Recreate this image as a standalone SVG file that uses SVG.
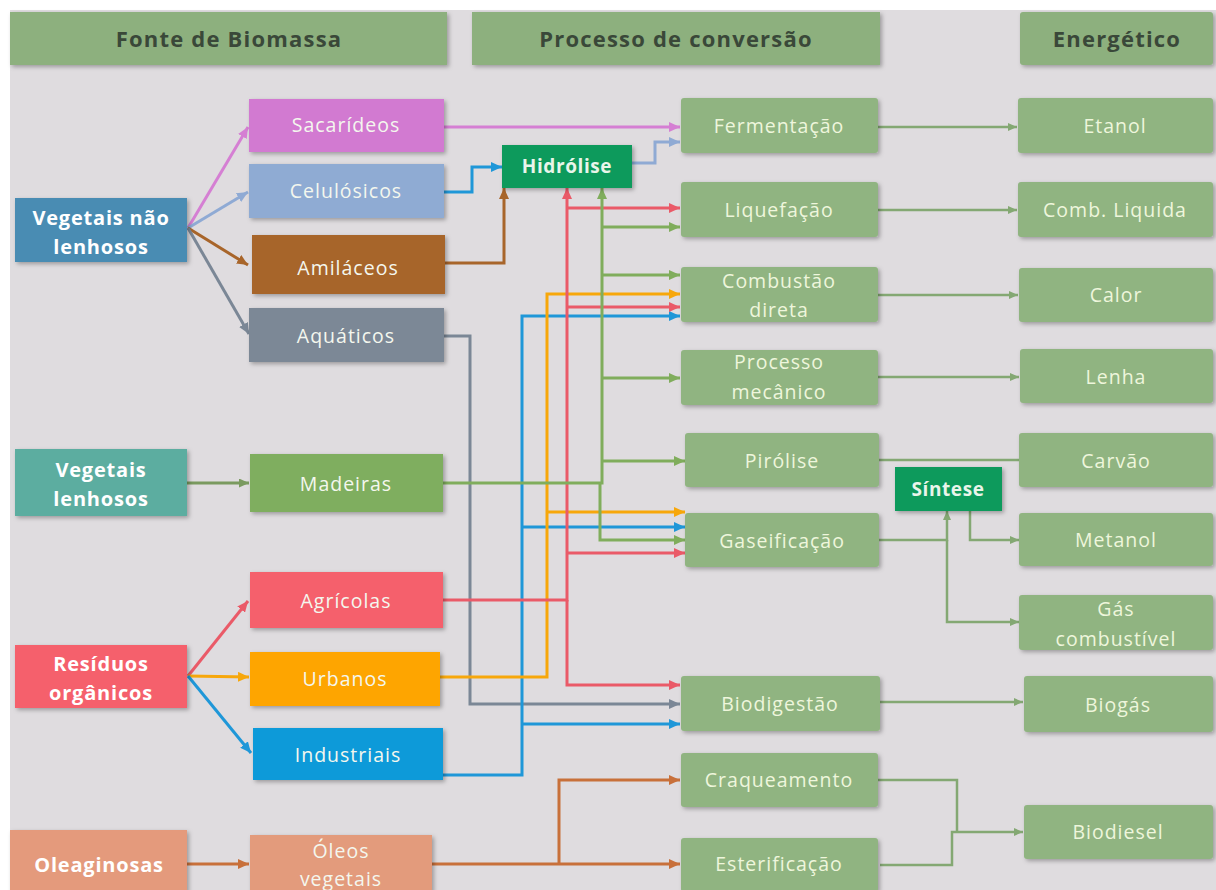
<svg xmlns="http://www.w3.org/2000/svg" width="1216" height="890" viewBox="0 0 1216 890">
<defs>
<filter id="sh" x="-10%" y="-10%" width="130%" height="140%">
<feDropShadow dx="2" dy="2" stdDeviation="2" flood-color="#000" flood-opacity="0.3"/>
</filter>
<marker id="aPink" markerUnits="userSpaceOnUse" markerWidth="11" markerHeight="10" refX="11" refY="5" orient="auto"><path d="M0,0 L11,5 L0,10 z" fill="#d57fd3"/></marker>
<marker id="aLb" markerUnits="userSpaceOnUse" markerWidth="11" markerHeight="10" refX="11" refY="5" orient="auto"><path d="M0,0 L11,5 L0,10 z" fill="#8faad4"/></marker>
<marker id="aBlue" markerUnits="userSpaceOnUse" markerWidth="11" markerHeight="10" refX="11" refY="5" orient="auto"><path d="M0,0 L11,5 L0,10 z" fill="#1f97d8"/></marker>
<marker id="aBrown" markerUnits="userSpaceOnUse" markerWidth="11" markerHeight="10" refX="11" refY="5" orient="auto"><path d="M0,0 L11,5 L0,10 z" fill="#a8652a"/></marker>
<marker id="aGray" markerUnits="userSpaceOnUse" markerWidth="11" markerHeight="10" refX="11" refY="5" orient="auto"><path d="M0,0 L11,5 L0,10 z" fill="#7b8796"/></marker>
<marker id="aRed" markerUnits="userSpaceOnUse" markerWidth="11" markerHeight="10" refX="11" refY="5" orient="auto"><path d="M0,0 L11,5 L0,10 z" fill="#ea5a68"/></marker>
<marker id="aGreen" markerUnits="userSpaceOnUse" markerWidth="11" markerHeight="10" refX="11" refY="5" orient="auto"><path d="M0,0 L11,5 L0,10 z" fill="#80ad5c"/></marker>
<marker id="aOrange" markerUnits="userSpaceOnUse" markerWidth="11" markerHeight="10" refX="11" refY="5" orient="auto"><path d="M0,0 L11,5 L0,10 z" fill="#f7a70b"/></marker>
<marker id="aOil" markerUnits="userSpaceOnUse" markerWidth="11" markerHeight="10" refX="11" refY="5" orient="auto"><path d="M0,0 L11,5 L0,10 z" fill="#c8703a"/></marker>
<marker id="aOut" markerUnits="userSpaceOnUse" markerWidth="9" markerHeight="8" refX="9" refY="4" orient="auto"><path d="M0,0 L9,4 L0,8 z" fill="#84a873"/></marker>
<marker id="aOlive" markerUnits="userSpaceOnUse" markerWidth="10" markerHeight="9" refX="10" refY="4.5" orient="auto"><path d="M0,0 L10,4.5 L0,9 z" fill="#7a9a5f"/></marker>
</defs>
<style>
.box{filter:url(#sh);}
.hdr{fill:#8db07e;}
.proc{fill:#90b481;}
.syn{fill:#0c9a5b;}
text{font-family:"Open Sans","DejaVu Sans",sans-serif;text-anchor:middle;}
.ht{font-size:22px;font-weight:bold;fill:#3a4839;letter-spacing:1.2px;}
.lt{font-size:20px;font-weight:bold;fill:#ffffff;letter-spacing:0.8px;}
.nt{font-size:19.5px;fill:#f4f7ee;letter-spacing:1px;}
.pt{font-size:19.5px;fill:#eef6dc;letter-spacing:1px;}
.st{font-size:19px;font-weight:bold;fill:#e9f5ea;letter-spacing:0.6px;}
.c{fill:none;stroke-width:3;stroke-linejoin:miter;}
.o{fill:none;stroke:#84a873;stroke-width:2.5;}
</style>
<rect x="0" y="0" width="1216" height="890" fill="#ffffff"/>
<rect x="10" y="10" width="1206" height="880" fill="#dfdcdf"/>

<g id="headers">
<g id="h-fonte"><rect class="box hdr" x="10" y="12" width="437" height="53"/><text class="ht" x="229" y="47">Fonte de Biomassa</text></g>
<g id="h-processo"><rect class="box hdr" x="472" y="12" width="408" height="53"/><text class="ht" x="676" y="47">Processo de conversão</text></g>
<g id="h-energetico"><rect class="box hdr" x="1020" y="12" width="193" height="53" rx="3"/><text class="ht" x="1117" y="47">Energético</text></g>
</g>

<g id="connectors">
<path class="c" stroke="#d57fd3" d="M188,228 L248,127" marker-end="url(#aPink)"/>
<path class="c" stroke="#8faad4" d="M188,228 L248,192" marker-end="url(#aLb)"/>
<path class="c" stroke="#a8652a" d="M188,228 L248,265" marker-end="url(#aBrown)"/>
<path class="c" stroke="#7b8796" d="M188,228 L249,334" marker-end="url(#aGray)"/>
<path class="c" stroke="#d57fd3" d="M444,127 H680" marker-end="url(#aPink)"/>
<path class="c" stroke="#1f97d8" d="M444,192 H472 V167 H502" marker-end="url(#aBlue)"/>
<path class="c" stroke="#a8652a" d="M445,263 H504 V188" marker-end="url(#aBrown)"/>
<path class="c" stroke="#8faad4" d="M632,163 H655 V142 H680" marker-end="url(#aLb)"/>
<path class="c" stroke="#7b8796" d="M444,336 H470 V704 H680" marker-end="url(#aGray)"/>
<path class="c" stroke="#1f97d8" d="M443,775 H522 V316 H680" marker-end="url(#aBlue)"/>
<path class="c" stroke="#1f97d8" d="M522,527 H685" marker-end="url(#aBlue)"/>
<path class="c" stroke="#1f97d8" d="M522,724 H680" marker-end="url(#aBlue)"/>
<path class="c" stroke="#f7a70b" d="M440,677 H547 V294 H680" marker-end="url(#aOrange)"/>
<path class="c" stroke="#f7a70b" d="M547,512 H685" marker-end="url(#aOrange)"/>
<path class="c" stroke="#ea5a68" d="M443,600 H567 V188" marker-end="url(#aRed)"/>
<path class="c" stroke="#ea5a68" d="M567,208 H680" marker-end="url(#aRed)"/>
<path class="c" stroke="#ea5a68" d="M567,307 H680" marker-end="url(#aRed)"/>
<path class="c" stroke="#ea5a68" d="M567,553 H685" marker-end="url(#aRed)"/>
<path class="c" stroke="#ea5a68" d="M567,600 V685 H680" marker-end="url(#aRed)"/>
<path class="c" stroke="#80ad5c" d="M443,483 H602 V188" marker-end="url(#aGreen)"/>
<path class="c" stroke="#80ad5c" d="M602,227 H680" marker-end="url(#aGreen)"/>
<path class="c" stroke="#80ad5c" d="M602,275 H680" marker-end="url(#aGreen)"/>
<path class="c" stroke="#80ad5c" d="M602,378 H680" marker-end="url(#aGreen)"/>
<path class="c" stroke="#80ad5c" d="M602,461 H685" marker-end="url(#aGreen)"/>
<path class="c" stroke="#80ad5c" d="M600,483 V540 H685" marker-end="url(#aGreen)"/>
<path class="c" stroke="#7a9a5f" stroke-width="2.5" d="M187,483 H249" marker-end="url(#aOlive)"/>
<path class="c" stroke="#ea5a68" d="M188,676 L248,601" marker-end="url(#aRed)"/>
<path class="c" stroke="#f7a70b" d="M188,676 L249,677" marker-end="url(#aOrange)"/>
<path class="c" stroke="#1f97d8" d="M188,676 L251,753" marker-end="url(#aBlue)"/>
<path class="c" stroke="#c8703a" d="M187,864 H249" marker-end="url(#aOil)"/>
<path class="c" stroke="#c8703a" d="M432,864 H680" marker-end="url(#aOil)"/>
<path class="c" stroke="#c8703a" d="M559,864 V780 H680" marker-end="url(#aOil)"/>
<path class="o" d="M878,127 H1017" marker-end="url(#aOut)"/>
<path class="o" d="M878,210 H1017" marker-end="url(#aOut)"/>
<path class="o" d="M878,295 H1018" marker-end="url(#aOut)"/>
<path class="o" d="M878,377 H1019" marker-end="url(#aOut)"/>
<path class="o" d="M879,460 H1019"/>
<path class="o" d="M879,540 H947 V511" marker-end="url(#aOut)"/>
<path class="o" d="M947,540 V622 H1019" marker-end="url(#aOut)"/>
<path class="o" d="M970,511 V540 H1019" marker-end="url(#aOut)"/>
<path class="o" d="M880,702 H1023" marker-end="url(#aOut)"/>
<path class="o" d="M878,780 H957 V832"/>
<path class="o" d="M880,865 H952 V832 H1023" marker-end="url(#aOut)"/>
</g>

<g id="n-vnl"><rect class="box" x="15" y="198" width="172" height="64" fill="#4a8cb3"/><text class="lt" x="101" y="225">Vegetais não</text><text class="lt" x="101" y="254">lenhosos</text></g>
<g id="n-sacarideos"><rect class="box" x="249" y="99" width="195" height="53" fill="#d27ad1"/><text class="nt" x="346" y="132">Sacarídeos</text></g>
<g id="n-celulosicos"><rect class="box" x="249" y="164" width="195" height="54" fill="#8fabd3"/><text class="nt" x="346" y="198">Celulósicos</text></g>
<g id="n-amilaceos"><rect class="box" x="252" y="235" width="193" height="59" fill="#a7652a"/><text class="nt" x="348" y="275">Amiláceos</text></g>
<g id="n-aquaticos"><rect class="box" x="249" y="308" width="195" height="54" fill="#7c8896"/><text class="nt" x="346" y="343">Aquáticos</text></g>
<g id="n-vl"><rect class="box" x="15" y="449" width="172" height="67" fill="#5bada0"/><text class="lt" x="101" y="477">Vegetais</text><text class="lt" x="101" y="506">lenhosos</text></g>
<g id="n-madeiras"><rect class="box" x="250" y="454" width="193" height="58" fill="#7fae5f"/><text class="nt" x="346" y="491">Madeiras</text></g>
<g id="n-agricolas"><rect class="box" x="250" y="572" width="193" height="56" fill="#f5606c"/><text class="nt" x="346" y="608">Agrícolas</text></g>
<g id="n-residuos"><rect class="box" x="15" y="645" width="172" height="63" fill="#f5606c"/><text class="lt" x="101" y="671">Resíduos</text><text class="lt" x="101" y="700">orgânicos</text></g>
<g id="n-urbanos"><rect class="box" x="250" y="652" width="190" height="54" fill="#fea500"/><text class="nt" x="345" y="686">Urbanos</text></g>
<g id="n-industriais"><rect class="box" x="253" y="728" width="190" height="52" fill="#0d9ad9"/><text class="nt" x="348" y="762">Industriais</text></g>
<g id="n-oleaginosas"><rect class="box" x="10" y="830" width="177" height="62" fill="#e49a7b"/><text class="lt" x="99" y="872">Oleaginosas</text></g>
<g id="n-oleos"><rect class="box" x="250" y="835" width="182" height="57" fill="#e39b7c"/><text class="nt" x="341" y="858">Óleos</text><text class="nt" x="341" y="886">vegetais</text></g>

<g id="n-hidrolise"><rect class="box syn" x="502" y="145" width="130" height="43"/><text class="st" x="567" y="173">Hidrólise</text></g>
<g id="n-fermentacao"><rect class="box proc" x="681" y="98" width="197" height="55" rx="3"/><text class="pt" x="779" y="133">Fermentação</text></g>
<g id="n-liquefacao"><rect class="box proc" x="681" y="182" width="197" height="55" rx="3"/><text class="pt" x="779" y="217">Liquefação</text></g>
<g id="n-combustao"><rect class="box proc" x="681" y="267" width="197" height="55" rx="3"/><text class="pt" x="779" y="288">Combustão</text><text class="pt" x="779" y="317">direta</text></g>
<g id="n-mecanico"><rect class="box proc" x="681" y="350" width="197" height="55" rx="3"/><text class="pt" x="779" y="369">Processo</text><text class="pt" x="779" y="399">mecânico</text></g>
<g id="n-pirolise"><rect class="box proc" x="685" y="433" width="194" height="54" rx="3"/><text class="pt" x="782" y="468">Pirólise</text></g>
<g id="n-gaseificacao"><rect class="box proc" x="685" y="513" width="194" height="54" rx="3"/><text class="pt" x="782" y="548">Gaseificação</text></g>
<g id="n-sintese"><rect class="box syn" x="895" y="467" width="107" height="44"/><text class="st" x="948" y="496">Síntese</text></g>
<g id="n-biodigestao"><rect class="box proc" x="681" y="676" width="199" height="55" rx="3"/><text class="pt" x="780" y="711">Biodigestão</text></g>
<g id="n-craqueamento"><rect class="box proc" x="681" y="753" width="197" height="54" rx="3"/><text class="pt" x="779" y="787">Craqueamento</text></g>
<g id="n-esterificacao"><rect class="box proc" x="681" y="838" width="197" height="54" rx="3"/><text class="pt" x="779" y="871">Esterificação</text></g>

<g id="n-etanol"><rect class="box proc" x="1018" y="98" width="195" height="55" rx="3"/><text class="pt" x="1115" y="133">Etanol</text></g>
<g id="n-combliq"><rect class="box proc" x="1018" y="182" width="195" height="55" rx="3"/><text class="pt" x="1115" y="217">Comb. Liquida</text></g>
<g id="n-calor"><rect class="box proc" x="1019" y="268" width="194" height="54" rx="3"/><text class="pt" x="1116" y="302">Calor</text></g>
<g id="n-lenha"><rect class="box proc" x="1020" y="349" width="193" height="54" rx="3"/><text class="pt" x="1116" y="384">Lenha</text></g>
<g id="n-carvao"><rect class="box proc" x="1019" y="433" width="194" height="54" rx="3"/><text class="pt" x="1116" y="468">Carvão</text></g>
<g id="n-metanol"><rect class="box proc" x="1019" y="513" width="194" height="53" rx="3"/><text class="pt" x="1116" y="547">Metanol</text></g>
<g id="n-gas"><rect class="box proc" x="1019" y="595" width="194" height="55" rx="3"/><text class="pt" x="1116" y="616">Gás</text><text class="pt" x="1116" y="646">combustível</text></g>
<g id="n-biogas"><rect class="box proc" x="1024" y="676" width="189" height="56" rx="3"/><text class="pt" x="1118" y="712">Biogás</text></g>
<g id="n-biodiesel"><rect class="box proc" x="1024" y="805" width="189" height="54" rx="3"/><text class="pt" x="1118" y="839">Biodiesel</text></g>
</svg>
